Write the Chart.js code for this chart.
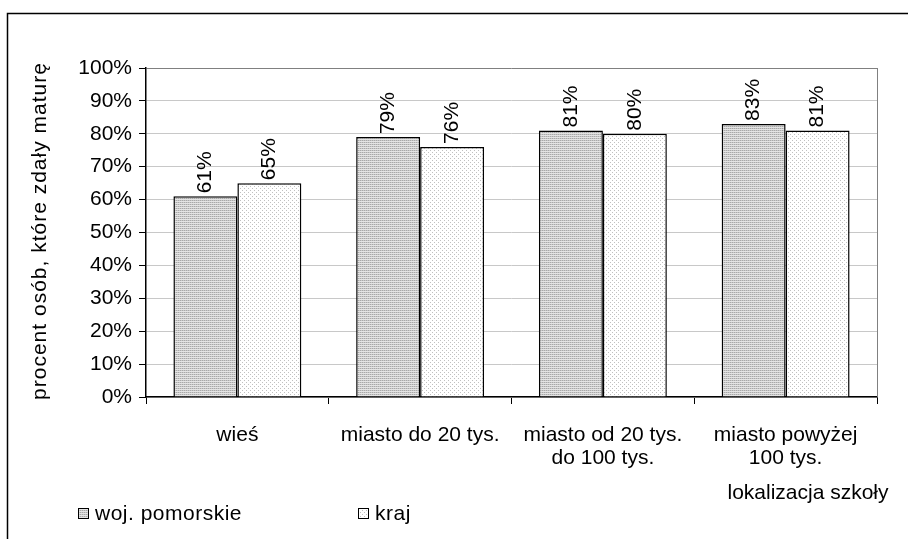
<!DOCTYPE html>
<html>
<head>
<meta charset="utf-8">
<script src="https://cdn.jsdelivr.net/npm/chart.js@4.4.1/dist/chart.umd.min.js"></script>
<style>
  html, body { margin: 0; padding: 0; background: #fff; }
  #wrap { width: 908px; height: 539px; position: relative; }
</style>
</head>
<body>
<div id="wrap"><canvas id="chart" width="908" height="539"></canvas></div>
<script>
const categories = ["wieś", "miasto do 20 tys.", ["miasto od 20 tys.", "do 100 tys."], ["miasto powyżej", "100 tys."]];
const seriesNames = ["woj. pomorskie", "kraj"];
const pomorskie = [61, 79, 81, 83];
const kraj = [65, 76, 80, 81];
const yTicks = [0, 10, 20, 30, 40, 50, 60, 70, 80, 90, 100];

const FONT = "'Liberation Sans', Arial, sans-serif";
const FS = 21;

// hatched fills like the original spreadsheet chart
function makePattern(kind) {
	const c = document.createElement("canvas");
	c.width = 4; c.height = 4;
	const g = c.getContext("2d");
	g.fillStyle = "#ffffff";
	g.fillRect(0, 0, 4, 4);
	if (kind === "lines") {
		g.fillStyle = "#a8a8a8";
		g.fillRect(0, 0, 1, 1); g.fillRect(2, 0, 1, 1);
		g.fillRect(0, 2, 1, 1); g.fillRect(2, 2, 1, 1);
		g.fillStyle = "#c8c8c8";
		g.fillRect(1, 0, 1, 1); g.fillRect(3, 0, 1, 1);
		g.fillRect(1, 2, 1, 1); g.fillRect(3, 2, 1, 1);
		g.fillStyle = "#e4e4e4";
		g.fillRect(0, 1, 4, 1); g.fillRect(0, 3, 4, 1);
	} else {
		g.fillStyle = "#c0c0c0";
		g.fillRect(0, 0, 1, 1);
		g.fillRect(2, 2, 1, 1);
	}
	return g.createPattern(c, "repeat");
}
const fillPom = makePattern("lines");
const fillKraj = makePattern("dots");

const decor = {
	id: "decor",
	afterDraw(chart) {
		const ctx = chart.ctx;
		const a = chart.chartArea;
		ctx.save();
		// outer frame
		ctx.strokeStyle = "#000";
		ctx.lineWidth = 1.5;
		ctx.beginPath();
		ctx.moveTo(7.5, 539);
		ctx.lineTo(7.5, 13.5);
		ctx.lineTo(908, 13.5);
		ctx.stroke();
		// right plot border
		ctx.strokeStyle = "#808080";
		ctx.lineWidth = 1;
		ctx.beginPath();
		ctx.moveTo(a.right + 0.5, a.top);
		ctx.lineTo(a.right + 0.5, a.bottom);
		ctx.stroke();

		// value labels, rotated
		ctx.fillStyle = "#000";
		ctx.font = FS + "px " + FONT;
		ctx.textAlign = "left";
		ctx.textBaseline = "middle";
		chart.data.datasets.forEach((ds, i) => {
			chart.getDatasetMeta(i).data.forEach((bar, j) => {
				ctx.save();
				ctx.translate(bar.x, bar.y - 3);
				ctx.rotate(-Math.PI / 2);
				ctx.fillText(ds.data[j] + "%", 0, 0);
				ctx.restore();
			});
		});

		// axis titles
		ctx.save();
		ctx.translate(40, 231);
		ctx.rotate(-Math.PI / 2);
		ctx.textAlign = "center";
		ctx.letterSpacing = "1px";
		ctx.fillText("procent osób, które zdały maturę", 0, 0);
		ctx.restore();
		ctx.textAlign = "center";
		ctx.fillText("lokalizacja szkoły", 808, 493);

		// legend
		ctx.letterSpacing = "0.5px";
		const items = [[78, seriesNames[0], fillPom], [358, seriesNames[1], fillKraj]];
		items.forEach(([x, name, fill]) => {
			ctx.fillStyle = fill;
			ctx.fillRect(x, 508, 11, 11);
			ctx.strokeStyle = "#000";
			ctx.lineWidth = 1;
			ctx.strokeRect(x + 0.5, 508.5, 10, 10);
			ctx.fillStyle = "#000";
			ctx.textAlign = "left";
			ctx.fillText(name, x + 17, 514);
		});
		ctx.restore();
	}
};

new Chart(document.getElementById("chart"), {
	type: "bar",
	data: {
		labels: categories,
		datasets: [
			{
				label: seriesNames[0],
				data: pomorskie,
				backgroundColor: fillPom,
				borderColor: "#000",
				borderWidth: 1.5,
				borderSkipped: "bottom",
			},
			{
				label: seriesNames[1],
				data: kraj,
				backgroundColor: fillKraj,
				borderColor: "#000",
				borderWidth: 1.5,
				borderSkipped: "bottom",
			},
		],
	},
	options: {
		responsive: false,
		animation: false,
		events: [],
		categoryPercentage: 0.7,
		barPercentage: 1.0,
		layout: { padding: { top: 68, right: 31, left: 0, bottom: 0 } },
		plugins: {
			legend: { display: false },
			tooltip: { enabled: false },
		},
		scales: {
			x: {
				afterFit(s) { s.height = 142; },
				grid: {
					drawOnChartArea: false,
					tickLength: 7,
					tickColor: "#000",
				},
				border: { color: "#000", width: 1.5 },
				ticks: {
					color: "#000",
					padding: 20,
					maxRotation: 0,
					autoSkip: false,
					font: { family: FONT, size: FS, lineHeight: 1.07 },
				},
			},
			y: {
				min: 0,
				max: 100,
				afterFit(s) { s.width = 146; },
				afterBuildTicks(s) { s.ticks = yTicks.map(v => ({ value: v })); },
				grid: {
					color: ctx => (ctx.tick && ctx.tick.value === 100 ? "#808080" : "#c8c8c8"),
					tickLength: 7,
					tickColor: "#000",
				},
				border: { color: "#000", width: 1.5 },
				ticks: {
					color: "#000",
					padding: 7,
					font: { family: FONT, size: FS },
					callback: v => v + "%",
				},
			},
		},
	},
	plugins: [decor],
});
</script>
</body>
</html>
